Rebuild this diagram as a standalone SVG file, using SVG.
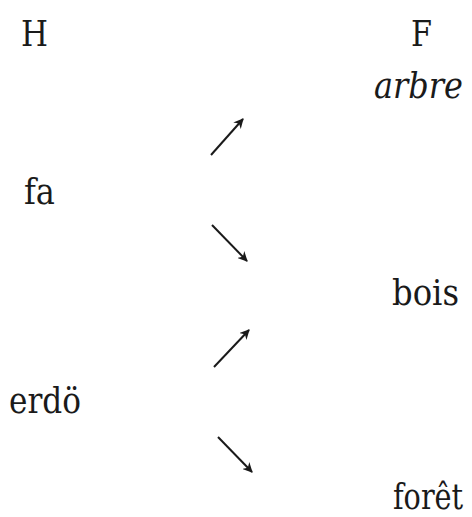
<svg xmlns="http://www.w3.org/2000/svg" width="472" height="517" viewBox="0 0 472 517">
<style>
text { font-family: 'DejaVu Serif', serif; font-size: 35px; fill: #1a1a1a; }
.it { font-style: italic; }
.arr { stroke: #1a1a1a; stroke-width: 2; fill: none; marker-end: url(#ah); }
</style>
<defs>
<marker id="ah" viewBox="0 0 10 10" refX="9" refY="5" markerWidth="5" markerHeight="5" orient="auto" markerUnits="strokeWidth">
<path d="M0,0 L10,5 L0,10 L3,5 Z" fill="#1a1a1a"/>
</marker>
</defs>
<rect width="472" height="517" fill="#fff"/>
<g id="H"><text x="21" y="46" textLength="27" lengthAdjust="spacingAndGlyphs">H</text></g>
<g id="F"><text x="411" y="46" textLength="21" lengthAdjust="spacingAndGlyphs">F</text></g>
<g id="arbre"><text class="it" x="374" y="98" textLength="89" lengthAdjust="spacingAndGlyphs">arbre</text></g>
<g id="fa"><text x="24" y="204" textLength="31" lengthAdjust="spacingAndGlyphs">fa</text></g>
<g id="bois"><text x="392" y="305" textLength="67" lengthAdjust="spacingAndGlyphs">bois</text></g>
<g id="erdo"><text x="9" y="413" textLength="72" lengthAdjust="spacingAndGlyphs">erdö</text></g>
<g id="foret"><text transform="translate(393,509) scale(0.82,1)" x="0" y="0">forêt</text></g>
<g id="connectors">
<line class="arr" x1="211" y1="155" x2="243" y2="119"/>
<line class="arr" x1="212" y1="225" x2="247" y2="261"/>
<line class="arr" x1="214" y1="367" x2="249" y2="330"/>
<line class="arr" x1="218" y1="437" x2="252" y2="472"/>
</g>
</svg>
